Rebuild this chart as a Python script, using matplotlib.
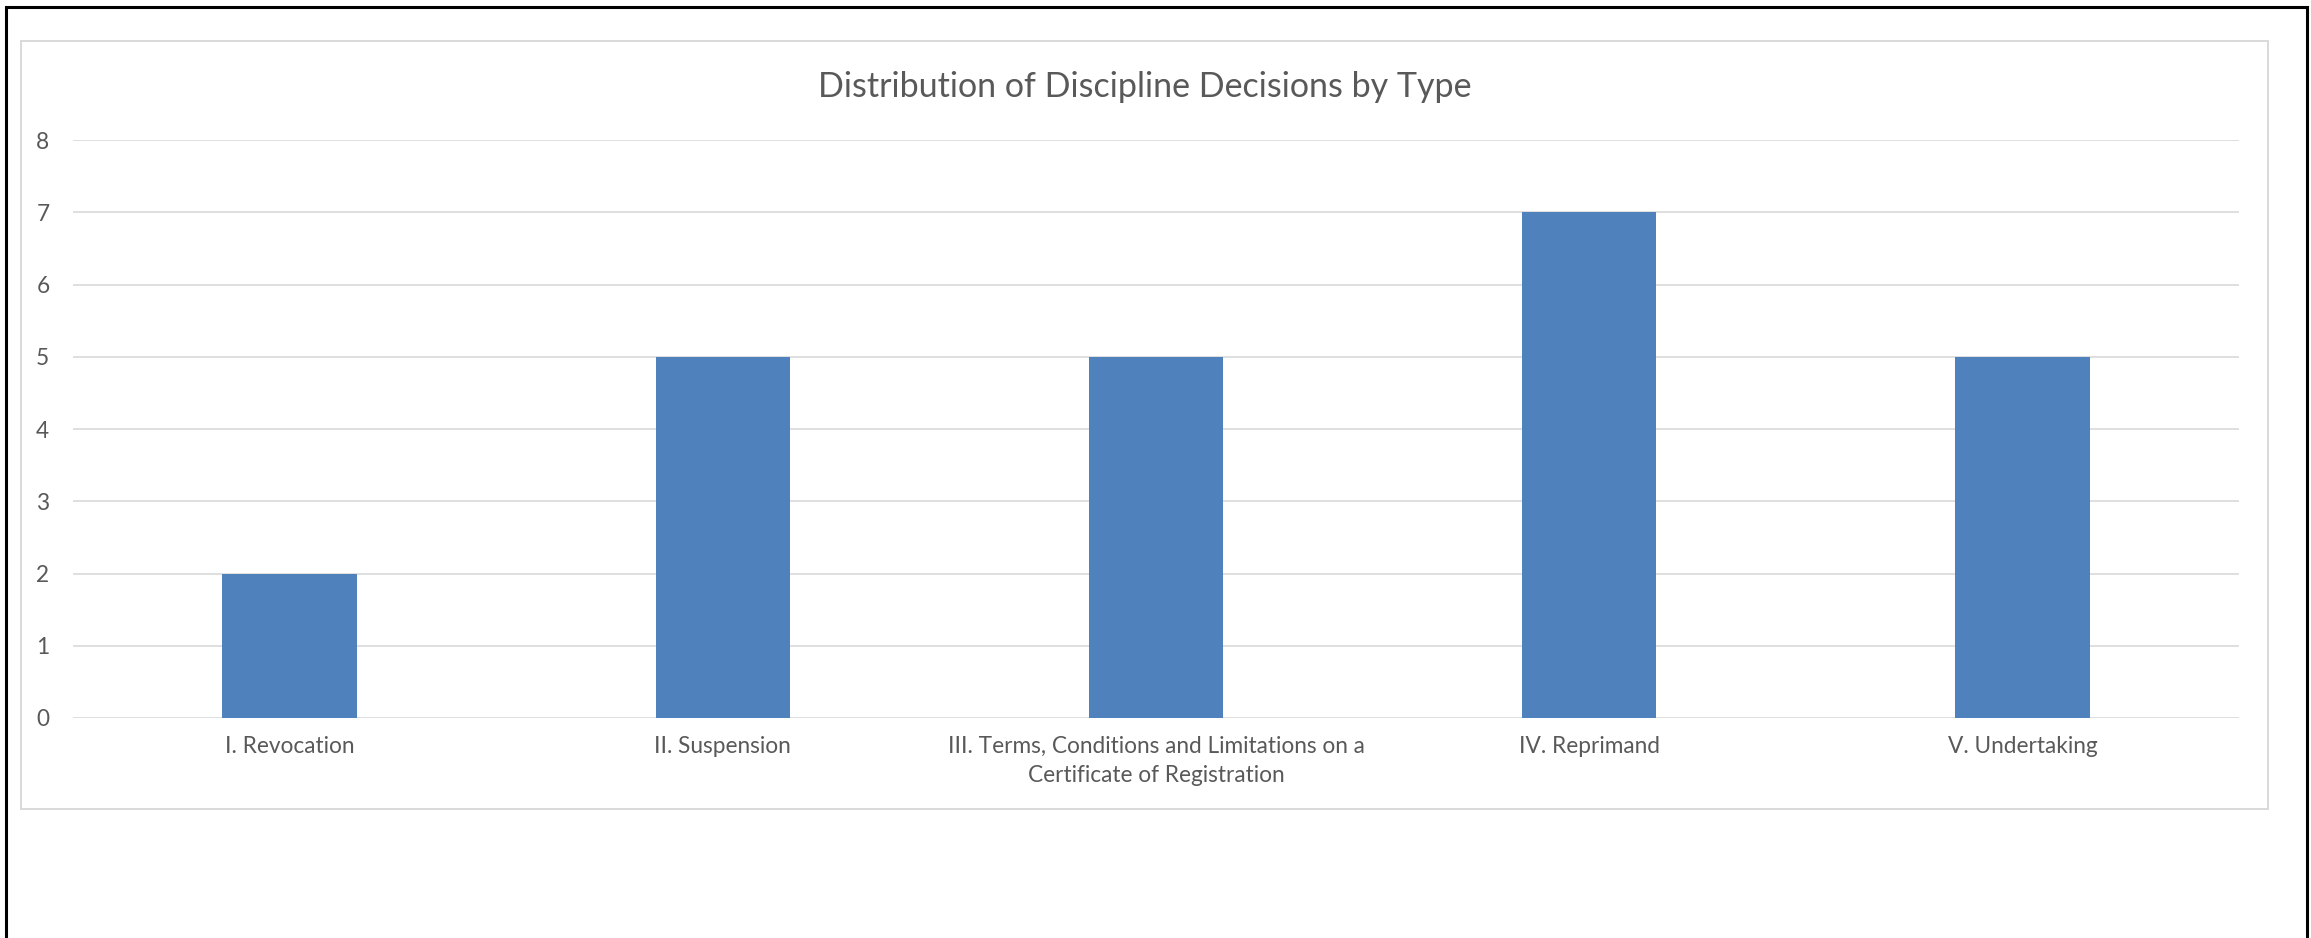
import matplotlib.pyplot as plt
from matplotlib.patches import Rectangle

# Discipline decisions counted by type
categories = [
    'I. Revocation',
    'II. Suspension',
    'III. Terms, Conditions and Limitations on a\nCertificate of Registration',
    'IV. Reprimand',
    'V. Undertaking',
]
counts = [2, 5, 5, 7, 5]
y_ticks = [0, 1, 2, 3, 4, 5, 6, 7, 8]

W, H = 2311, 938
text_grey = '#595959'
grid_grey = '#d9d9d9'
bar_blue = '#4f81bd'

plt.rcParams['font.family'] = ['Lato', 'DejaVu Sans']

fig = plt.figure(figsize=(W / 100, H / 100), dpi=100)

# outer black frame (bottom edge falls below the image)
fig.patches.append(Rectangle((6 / W, -0.05), 2301 / W, 1.05 - 7 / H,
                             transform=fig.transFigure, fill=False,
                             edgecolor='black', linewidth=2.2))
# light grey chart box
box_left, box_right = 21, 2268
fig.patches.append(Rectangle((box_left / W, 1 - 809 / H), (box_right - box_left) / W, 768 / H,
                             transform=fig.transFigure, fill=False,
                             edgecolor=grid_grey, linewidth=1.4))

ax = fig.add_axes([73 / W, 1 - 718 / H, 2166 / W, 578 / H])
x = range(len(categories))
ax.bar(x, counts, width=0.31, color=bar_blue, zorder=3)

ax.set_xlim(-0.5, len(categories) - 0.5)
ax.set_ylim(0, 8)
ax.set_yticks(y_ticks)
ax.set_xticks(list(x))
ax.set_xticklabels(categories, linespacing=1.45)
ax.tick_params(axis='both', length=0, colors=text_grey, labelsize=16.3)
ax.tick_params(axis='x', pad=13)
ax.tick_params(axis='y', pad=17)
ax.yaxis.grid(True, color=grid_grey, linewidth=1.2, zorder=0)
for s in ax.spines.values():
    s.set_visible(False)

# title centred on the chart box
fig.text((box_left + box_right) / 2 / W, 1 - 87 / H,
         'Distribution of Discipline Decisions by Type',
         ha='center', va='center', fontsize=24.5, color=text_grey)

fig.savefig('out.png', dpi=100)
